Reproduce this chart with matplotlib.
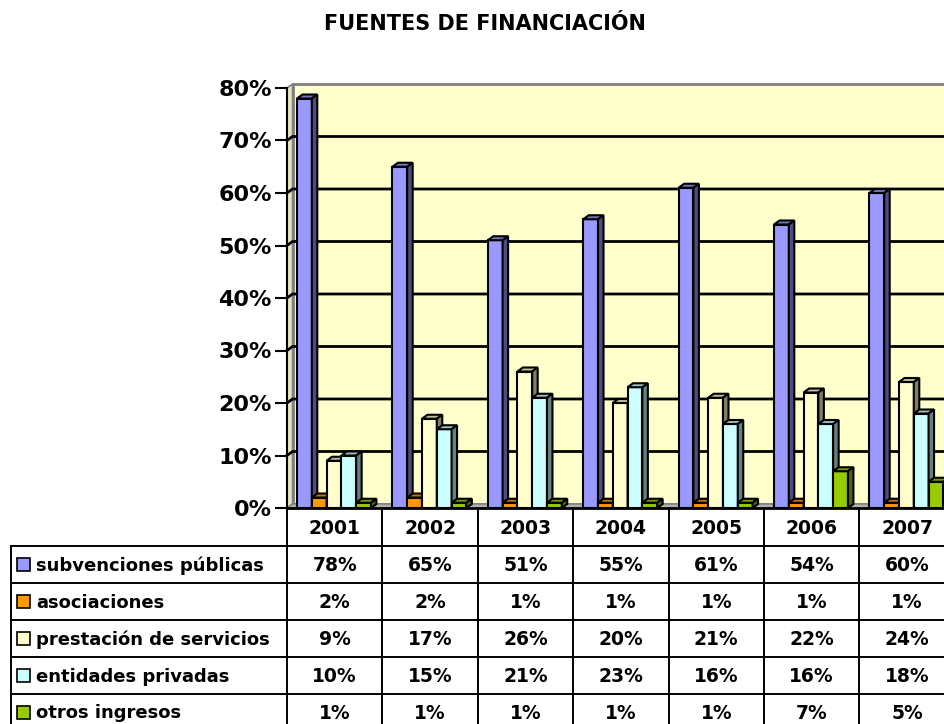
import matplotlib.pyplot as plt
import matplotlib.colors as mcolors
from matplotlib.patches import Rectangle, Polygon
import numpy as np

plt.rcParams['font.family'] = ['DejaVu Sans']
plt.rcParams['font.weight'] = 'bold'

# data
years = ['2001', '2002', '2003', '2004', '2005', '2006', '2007']
series = ['subvenciones públicas', 'asociaciones', 'prestación de servicios',
          'entidades privadas', 'otros ingresos']
subvenciones = [78, 65, 51, 55, 61, 54, 60]
asociaciones = [2, 2, 1, 1, 1, 1, 1]
prestacion = [9, 17, 26, 20, 21, 22, 24]
entidades = [10, 15, 21, 23, 16, 16, 18]
otros = [1, 1, 1, 1, 1, 7, 5]
values = [subvenciones, asociaciones, prestacion, entidades, otros]
colors = ['#9999FF', '#FF9900', '#FFFFCC', '#CCFFFF', '#99CC00']


def shade(c, f):
    r, g, b = mcolors.to_rgb(c)
    return (r * f, g * f, b * f)


# layout in pixels
W, H = 944, 724
LEFT, COLW = 287, 95.4
Y0, Y80 = 508, 88
DX, DY = 5.5, 4
ROW0, ROWH = 546, 37
TAB_LEFT = 11

fig = plt.figure(figsize=(W / 100, H / 100), dpi=100)

# page axes in pixel units for title and data table
page = fig.add_axes([0, 0, 1, 1])
page.set_xlim(0, W)
page.set_ylim(H, 0)
page.axis('off')

page.text(485, 30, 'FUENTES DE FINANCIACIÓN', ha='center', va='baseline', fontsize=15)

ncol = len(years)
lw_tab = 1.4
for k in range(ncol + 1):
    page.plot([LEFT + k * COLW] * 2, [Y0, H + 40], color='black', lw=lw_tab)
page.plot([TAB_LEFT, TAB_LEFT], [ROW0, H + 40], color='black', lw=lw_tab)
for r in range(len(series) + 1):
    page.plot([TAB_LEFT, W + 20], [ROW0 + r * ROWH] * 2, color='black', lw=lw_tab)

for k, yr in enumerate(years):
    page.text(LEFT + (k + 0.5) * COLW, (Y0 + ROW0) / 2 + 1, yr,
              ha='center', va='center', fontsize=13.5)

for r, (name, vals, c) in enumerate(zip(series, values, colors)):
    yc = ROW0 + (r + 0.5) * ROWH
    page.add_patch(Rectangle((17, yc - 6.5), 13, 13, facecolor=c,
                             edgecolor='black', lw=1.2))
    page.text(36, yc + 1, name, ha='left', va='center', fontsize=13)
    for k, v in enumerate(vals):
        page.text(LEFT + (k + 0.5) * COLW, yc + 1, f'{v}%',
                  ha='center', va='center', fontsize=13.5)

# chart axes
ax = fig.add_axes([LEFT / W, 1 - Y0 / H, ncol * COLW / W, (Y0 - Y80) / H])
ax.set_xlim(0, ncol)
ax.set_ylim(0, 0.8)
ax.patch.set_visible(False)
for s in ['top', 'right', 'bottom']:
    ax.spines[s].set_visible(False)
ax.spines['left'].set_linewidth(1.5)
ax.spines['left'].set_zorder(5)

ddx = DX / COLW
ddy = DY / (Y0 - Y80) * 0.8

# walls and floor
ax.add_patch(Polygon([(0, 0), (ddx, ddy), (ddx, 0.8 + ddy), (0, 0.8)],
                     closed=True, facecolor='#E6E6C0', edgecolor='#808080',
                     lw=1.2, clip_on=False, zorder=0))
ax.add_patch(Rectangle((ddx, ddy), ncol, 0.8, facecolor='#FFFFCC',
                       edgecolor='#808080', lw=2, clip_on=False, zorder=0))
ax.add_patch(Polygon([(0, 0), (ncol, 0), (ncol + ddx, ddy), (ddx, ddy)],
                     closed=True, facecolor='#B0B0B0', edgecolor='#808080',
                     lw=1, clip_on=False, zorder=0))

ticks = np.arange(0, 0.81, 0.1)
for v in ticks[1:-1]:
    ax.plot([0, ddx, ncol + ddx], [v, v + ddy, v + ddy], color='black',
            lw=2, clip_on=False, zorder=1)
ax.plot([0, ncol], [0, 0], color='black', lw=2, clip_on=False, zorder=1)

ax.set_xticks([])
ax.set_yticks(ticks)
ax.set_yticklabels([f'{round(v * 100)}%' for v in ticks])
ax.tick_params(axis='y', length=9, width=1.5, pad=2, labelsize=16)

# 3d bars
start, w = 0.105, 0.155
z = 2
for i in range(ncol):
    for j, (vals, c) in enumerate(zip(values, colors)):
        h = vals[i] / 100
        x0 = i + start + j * w
        ax.add_patch(Rectangle((x0, 0), w, h, facecolor=c, edgecolor='black',
                               lw=1.5, zorder=z))
        ax.add_patch(Polygon([(x0, h), (x0 + w, h), (x0 + w + ddx, h + ddy),
                              (x0 + ddx, h + ddy)], closed=True,
                             facecolor=shade(c, 0.75), edgecolor='black',
                             lw=1.5, zorder=z))
        ax.add_patch(Polygon([(x0 + w, 0), (x0 + w, h), (x0 + w + ddx, h + ddy),
                              (x0 + w + ddx, ddy)], closed=True,
                             facecolor=shade(c, 0.5), edgecolor='black',
                             lw=1.5, zorder=z))
        z += 1

fig.savefig('out.png', dpi=100)
